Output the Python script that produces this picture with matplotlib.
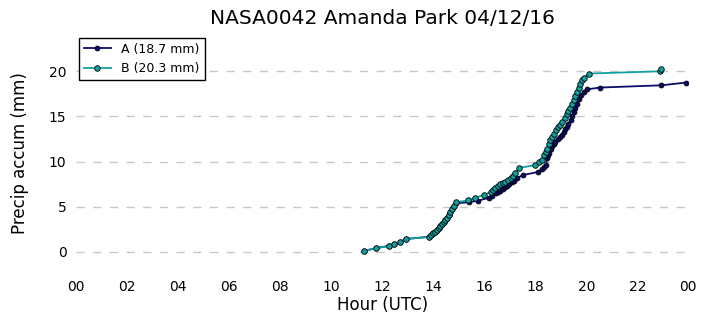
import numpy as np
import matplotlib
matplotlib.use('Agg')
import matplotlib.pyplot as plt

title = 'NASA0042 Amanda Park 04/12/16'

# gauge A (hour UTC, accumulated mm)
hour_a = [11.27, 11.74, 12.25, 12.47, 12.71, 12.92, 13.82, 13.92, 14.0, 14.08, 14.15, 14.21,
          14.28, 14.34, 14.4, 14.47, 14.53, 14.6, 14.66, 14.73, 14.8, 14.9, 15.39, 15.74,
          16.17, 16.3, 16.46, 16.55, 16.63, 16.72, 16.8, 16.9, 16.98, 17.07, 17.15, 17.3,
          17.5, 18.09, 18.26, 18.35, 18.42, 18.46, 18.5, 18.55, 18.6, 18.65, 18.72, 18.78,
          18.87, 18.95, 19.03, 19.11, 19.18, 19.24, 19.3, 19.4, 19.45, 19.5, 19.57, 19.63,
          19.7, 19.8, 19.9, 20.03, 20.52, 22.94, 23.9]
precip_a = [0.1, 0.4, 0.66, 0.88, 1.1, 1.43, 1.66, 1.88, 2.05, 2.24, 2.42, 2.6,
            2.83, 3.06, 3.28, 3.5, 3.8, 4.1, 4.42, 4.75, 5.1, 5.38, 5.5, 5.67,
            5.97, 6.2, 6.48, 6.6, 6.74, 6.95, 7.2, 7.35, 7.5, 7.7, 7.9, 8.2,
            8.5, 8.84, 9.17, 9.35, 9.6, 10.35, 10.7, 11.0, 11.35, 11.7, 11.95, 12.2,
            12.5, 12.75, 13.0, 13.3, 13.6, 13.85, 14.2, 14.6, 15.0, 15.5, 15.95, 16.4,
            16.9, 17.35, 17.7, 18.0, 18.2, 18.45, 18.75]

# gauge B
hour_b = [11.27, 11.74, 12.25, 12.47, 12.71, 12.92, 13.82, 13.92, 14.0, 14.08, 14.15, 14.21,
          14.28, 14.34, 14.4, 14.47, 14.53, 14.6, 14.66, 14.73, 14.8, 14.9, 15.36, 15.65,
          15.97, 16.26, 16.35, 16.43, 16.53, 16.63, 16.72, 16.82, 16.93, 17.05, 17.14, 17.22,
          17.37, 17.97, 18.13, 18.26, 18.35, 18.4, 18.46, 18.52, 18.59, 18.65, 18.72, 18.8,
          18.87, 18.96, 19.05, 19.15, 19.24, 19.3, 19.37, 19.43, 19.5, 19.56, 19.63, 19.7,
          19.76, 19.84, 19.92, 20.09, 22.87, 22.94]
precip_b = [0.1, 0.4, 0.66, 0.88, 1.1, 1.43, 1.66, 1.88, 2.05, 2.24, 2.42, 2.6,
            2.83, 3.06, 3.28, 3.5, 3.8, 4.1, 4.42, 4.75, 5.1, 5.5, 5.7, 6.0,
            6.3, 6.65, 6.88, 7.1, 7.3, 7.5, 7.63, 7.77, 8.0, 8.2, 8.45, 8.7,
            9.3, 9.6, 9.9, 10.2, 10.7, 11.1, 11.45, 11.9, 12.4, 12.75, 13.1, 13.45,
            13.8, 14.1, 14.4, 14.8, 15.25, 15.6, 15.9, 16.35, 16.8, 17.25, 17.7, 18.15,
            18.6, 19.0, 19.3, 19.75, 20.0, 20.3]

labels = ['A (18.7 mm)', 'B (20.3 mm)']
colors = ['#0b0b6b', '#12a0a0']
hour_ticks = np.arange(0, 25, 2)
hour_labels = ['%02d' % (h % 24) for h in hour_ticks]

fig = plt.figure(figsize=(7.06, 3.26), dpi=100)
ax = fig.add_axes([0.108, 0.172, 0.867, 0.72])

ax.plot(hour_a, precip_a, '-o', color=colors[0], ms=3.5, mfc=colors[0], mec='black',
        mew=0.6, lw=1.3, label=labels[0])
ax.plot(hour_b, precip_b, '-o', color=colors[1], ms=4, mfc=colors[1], mec='black',
        mew=0.6, lw=1.3, label=labels[1])

ax.set_xlim(0, 24)
ax.set_ylim(-2, 24)
ax.set_xticks(hour_ticks)
ax.set_xticklabels(hour_labels)
ax.set_yticks([0, 5, 10, 15, 20])
ax.tick_params(length=0, labelsize=10, pad=7)
ax.yaxis.grid(True, ls=(0, (6, 6)), color='#c8c8c8', lw=1)
for s in ax.spines.values():
    s.set_visible(False)

ax.set_xlabel('Hour (UTC)', fontsize=12, labelpad=2)
ax.set_ylabel('Precip accum (mm)', fontsize=12, labelpad=14)
ax.set_title(title, fontsize=14.5, pad=8)

leg = ax.legend(loc='upper left', fontsize=9, fancybox=False, framealpha=1,
                borderpad=0.4, handlelength=2.2, borderaxespad=0.2)
leg.get_frame().set_edgecolor('black')

fig.savefig('out.png', dpi=100)
